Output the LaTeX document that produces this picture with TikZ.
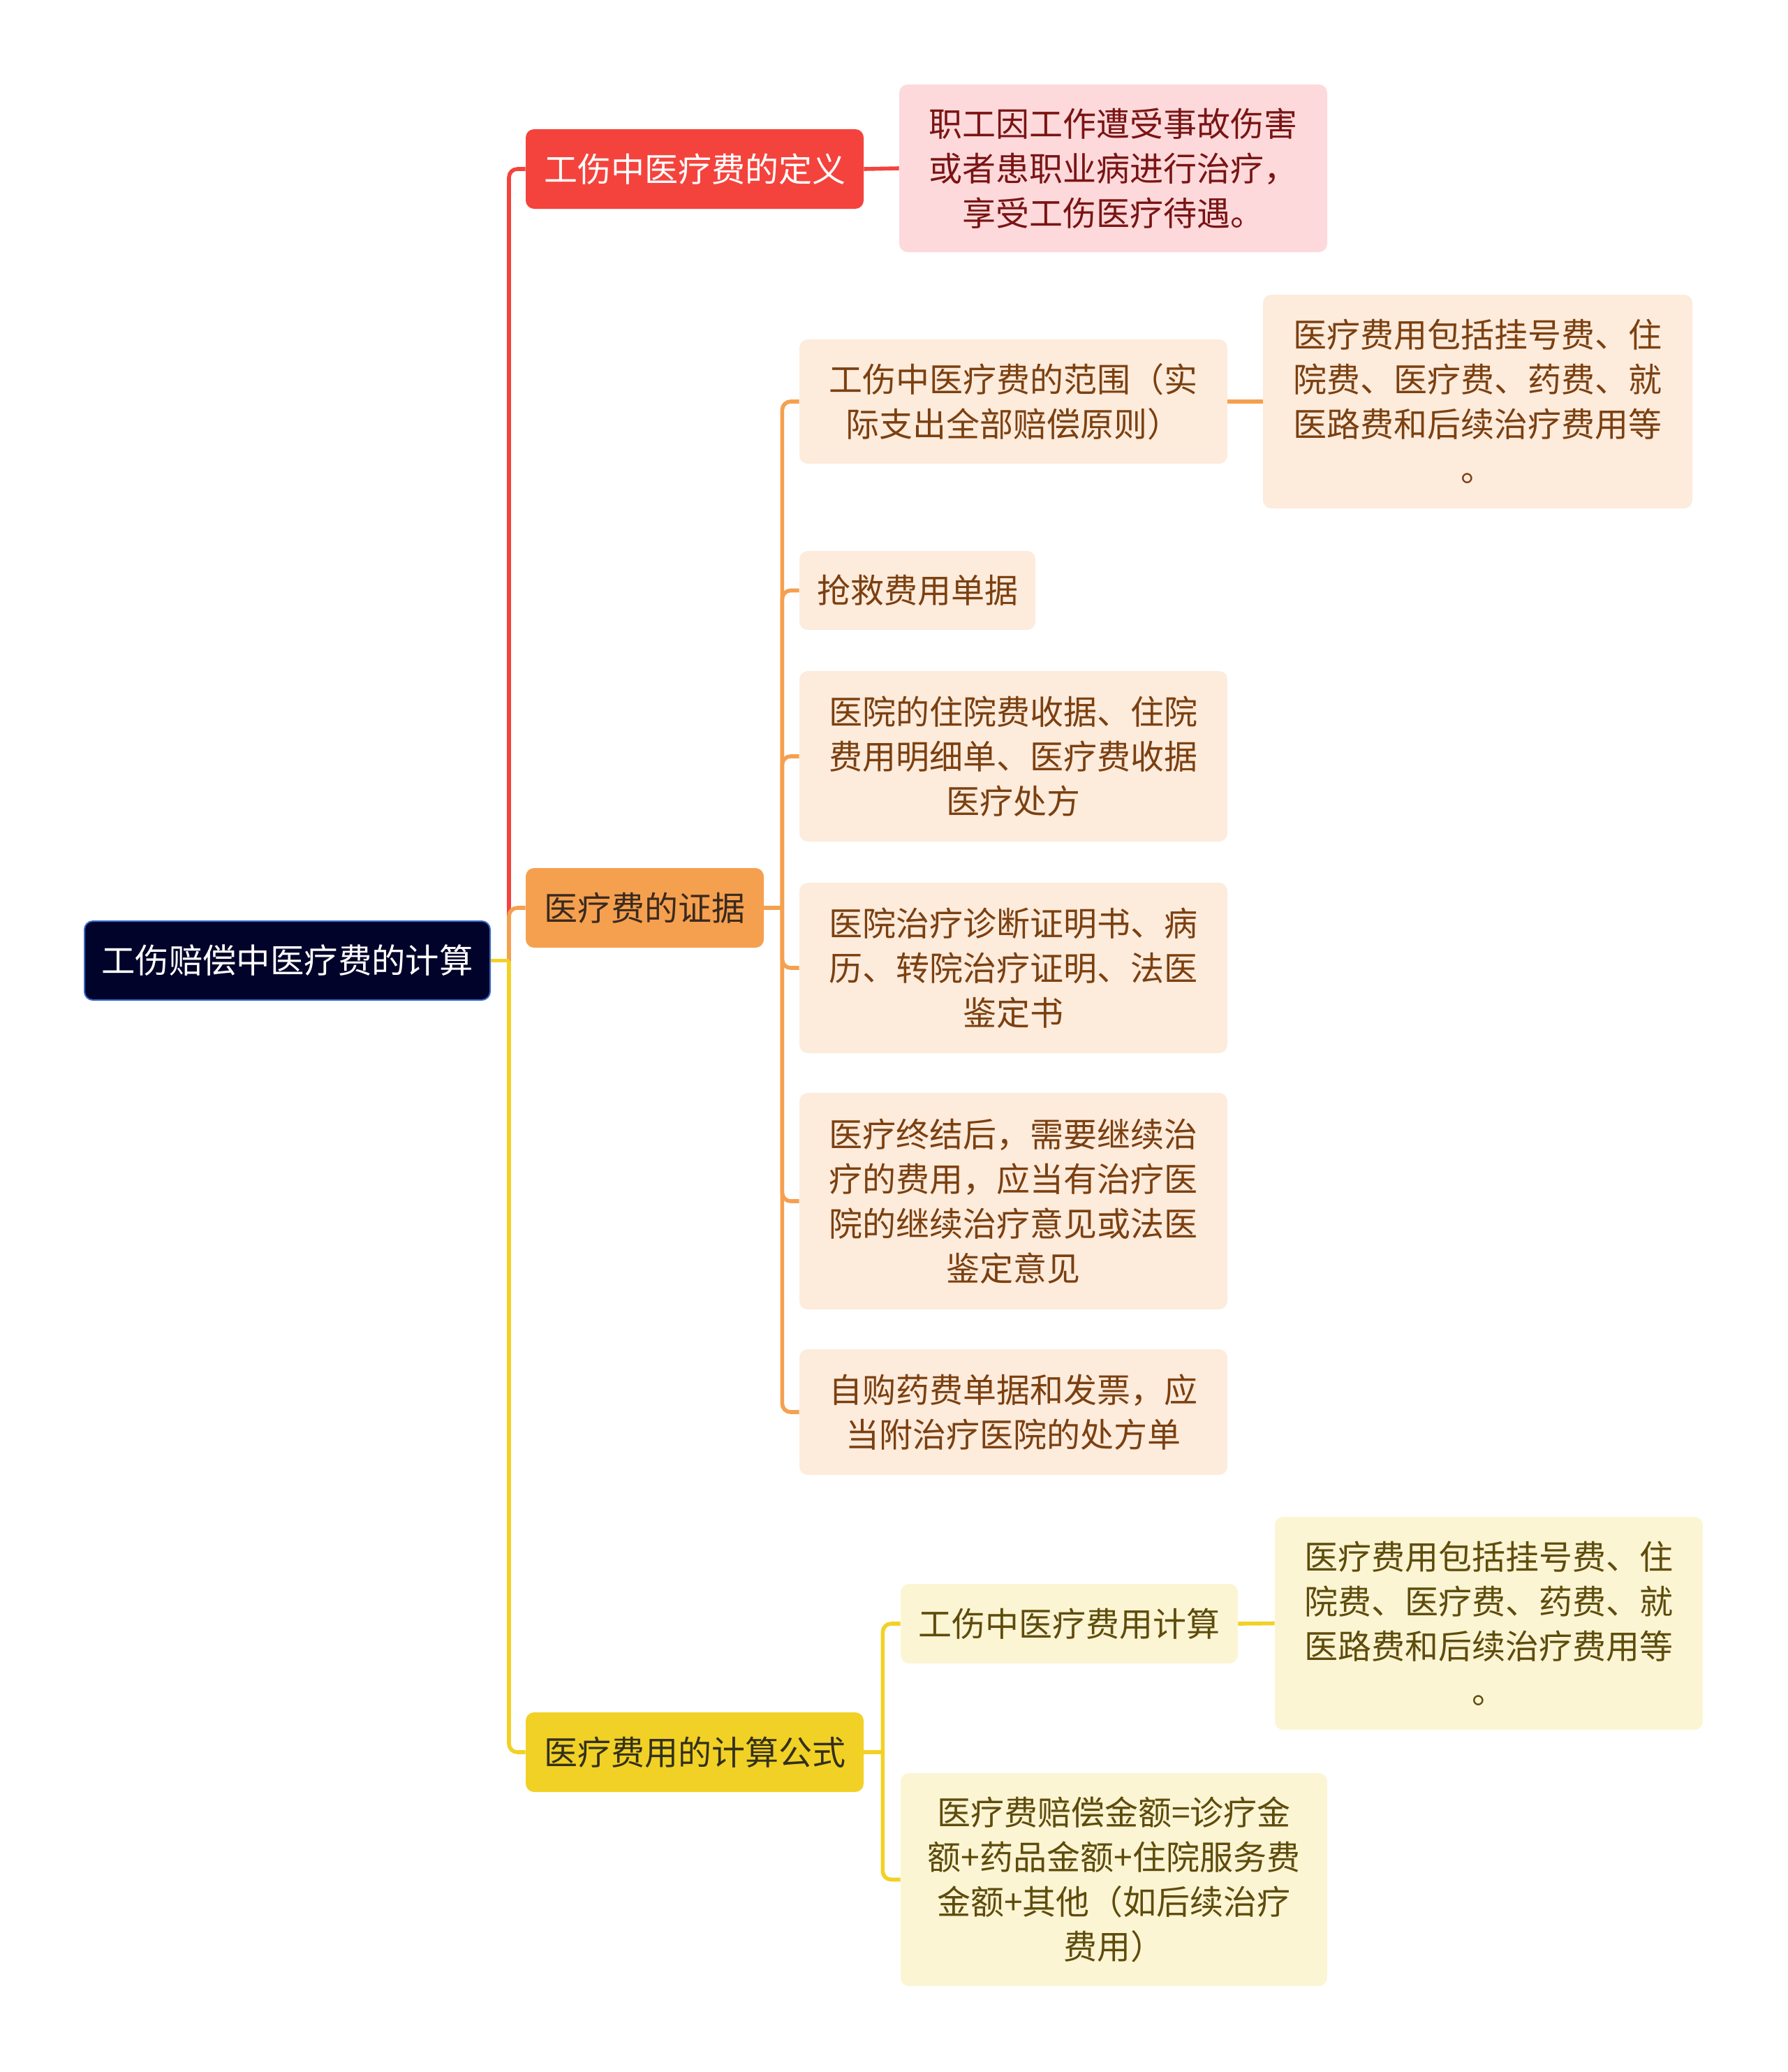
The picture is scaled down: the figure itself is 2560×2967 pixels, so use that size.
\documentclass[tikz,border=0pt]{standalone}
\usepackage{fontspec}
\newfontfamily\cjk{Noto Sans CJK SC}
\usetikzlibrary{calc}
\definecolor{rootfill}{HTML}{02032A}
\definecolor{rootline}{HTML}{3A6BC9}
\definecolor{redmain}{HTML}{F4433D}
\definecolor{redsoft}{HTML}{FDD9DB}
\definecolor{redtext}{HTML}{7A1414}
\definecolor{orgmain}{HTML}{F5A04F}
\definecolor{orgsoft}{HTML}{FDEBDC}
\definecolor{orgtext}{HTML}{7B4010}
\definecolor{orgdark}{HTML}{3A2A1E}
\definecolor{yelmain}{HTML}{F2D126}
\definecolor{yelsoft}{HTML}{FCF5D4}
\definecolor{yeltext}{HTML}{5E4C0C}
\definecolor{yeldark}{HTML}{33301A}
\tikzset{
  topic/.style={rounded corners=6pt, align=center, inner sep=0pt,
    font=\cjk\fontsize{24}{32}\selectfont},
  rootbox/.style={topic, fill=rootfill, draw=rootline, line width=1pt,
    text=white, font=\cjk\fontsize{24.2}{32}\selectfont},
  redbox/.style={topic, fill=redmain, text=white},
  redleaf/.style={topic, fill=redsoft, text=redtext},
  orgbox/.style={topic, fill=orgmain, text=orgdark},
  orgleaf/.style={topic, fill=orgsoft, text=orgtext},
  yelbox/.style={topic, fill=yelmain, text=yeldark},
  yelleaf/.style={topic, fill=yelsoft, text=yeltext},
  link/.style={line width=2.8pt, rounded corners=6pt},
}
\begin{document}
\begin{tikzpicture}[x=0.5pt, y=-0.5pt]
  \useasboundingbox (0,0) rectangle (2560,2967);
  % main topic
  \node[rootbox, minimum width=290.5pt, minimum height=56.5pt] (root) at (411.5,1375.5) {工伤赔偿中医疗费的计算};
  % first branch
  \node[redbox, minimum width=242pt, minimum height=57pt] (def) at (995,242) {工伤中医疗费的定义};
  \node[redleaf, minimum width=306.5pt, minimum height=120pt] (defleaf) at (1594.5,241)
    {职工因工作遭受事故伤害\\或者患职业病进行治疗，\\享受工伤医疗待遇。};
  % second branch
  \node[orgbox, minimum width=170.5pt, minimum height=57pt] (evid) at (923.5,1300) {医疗费的证据};
  \node[orgleaf, minimum width=306.5pt, minimum height=89pt] (e1) at (1451.5,575)
    {工伤中医疗费的范围（实\\际支出全部赔偿原则）};
  \node[orgleaf, minimum width=307.5pt, minimum height=153pt] (e1leaf) at (2116.5,575)
    {医疗费用包括挂号费、住\\院费、医疗费、药费、就\\医路费和后续治疗费用等\\。};
  \node[orgleaf, minimum width=169pt, minimum height=56.5pt] (e2) at (1314,845.5) {抢救费用单据};
  \node[orgleaf, minimum width=306.5pt, minimum height=122pt] (e3) at (1451.5,1083)
    {医院的住院费收据、住院\\费用明细单、医疗费收据\\医疗处方};
  \node[orgleaf, minimum width=306.5pt, minimum height=122pt] (e4) at (1451.5,1386)
    {医院治疗诊断证明书、病\\历、转院治疗证明、法医\\鉴定书};
  \node[orgleaf, minimum width=306.5pt, minimum height=155pt] (e5) at (1451.5,1720)
    {医疗终结后，需要继续治\\疗的费用，应当有治疗医\\院的继续治疗意见或法医\\鉴定意见};
  \node[orgleaf, minimum width=306.5pt, minimum height=90pt] (e6) at (1451.5,2022)
    {自购药费单据和发票，应\\当附治疗医院的处方单};
  % third branch
  \node[yelbox, minimum width=242pt, minimum height=57pt] (calc) at (995,2509) {医疗费用的计算公式};
  \node[yelleaf, minimum width=241.5pt, minimum height=57pt] (c1) at (1531.5,2325) {工伤中医疗费用计算};
  \node[yelleaf, minimum width=306.5pt, minimum height=152.5pt] (c1leaf) at (2132.5,2324.5)
    {医疗费用包括挂号费、住\\院费、医疗费、药费、就\\医路费和后续治疗费用等\\。};
  \node[yelleaf, minimum width=305.5pt, minimum height=152.5pt] (c2) at (1595.5,2691.5)
    {医疗费赔偿金额=诊疗金\\额+药品金额+住院服务费\\金额+其他（如后续治疗\\费用）};
  % connectors
  \coordinate (rj) at ($(root.east)+(26,0)$);
  \coordinate (oj) at ($(evid.east)+(26,0)$);
  \coordinate (yj) at ($(calc.east)+(27,0)$);
  \draw[link, redmain] (rj) |- (def.west);
  \draw[link, orgmain] (rj) |- (evid.west);
  \draw[link, yelmain] (rj) |- (calc.west);
  \draw[link, yelmain] (root.east) -- (rj);
  \draw[link, redmain] (def.east) -- (defleaf.west);
  \draw[link, orgmain] (evid.east) -- (oj);
  \foreach \c in {e1,e2,e3,e4,e5,e6}
    \draw[link, orgmain] (oj) |- (\c.west);
  \draw[link, orgmain] (e1.east) -- (e1leaf.west);
  \draw[link, yelmain] (calc.east) -- (yj);
  \foreach \c in {c1,c2}
    \draw[link, yelmain] (yj) |- (\c.west);
  \draw[link, yelmain] (c1.east) -- (c1leaf.west);
\end{tikzpicture}
\end{document}
